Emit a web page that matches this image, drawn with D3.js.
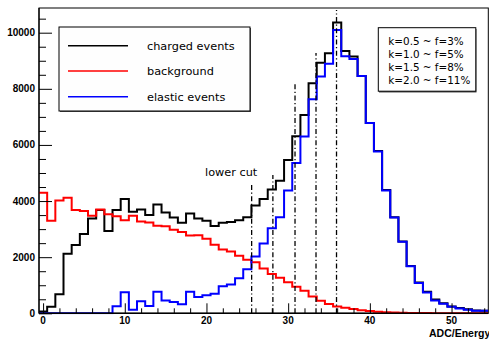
<!DOCTYPE html>
<html>
<head>
<meta charset="utf-8">
<script src="https://cdn.jsdelivr.net/npm/d3@7"></script>
<style>
  html, body { margin: 0; padding: 0; background: #fff; }
  svg { display: block; }
</style>
</head>
<body>
<svg id="chart" width="489" height="339"></svg>
<script>
// Bin centres (ADC/Energy), one unit wide
const binCenters = d3.range(0, 55);

// Charged events per bin
const charged = [60, 230, 680, 2120, 2430, 2830, 3380, 3680, 2930, 3680,
  4070, 3620, 3700, 3500, 3880, 3590, 3410, 3230, 3560, 3380,
  3300, 3110, 3230, 3250, 3320, 3420, 3840, 4070, 4410, 4720,
  5460, 6310, 7070, 8200, 8930, 9270, 10360, 9350, 9150, 8460,
  6780, 5780, 4390, 3420, 2560, 1690, 1100, 770, 490, 360,
  245, 185, 140, 100, 95];

// Background estimate per bin
const background = [4300, 3300, 4020, 4120, 3680, 3650, 3480, 3700, 3530, 3460,
  3320, 3480, 3270, 3240, 3120, 3100, 2980, 2900, 2770, 2780,
  2660, 2440, 2270, 2200, 2050, 1910, 1820, 1600, 1400, 1270,
  1110, 950, 800, 600, 450, 330, 240, 200, 150, 110,
  80, 55, 40, 30, 20, 15, 10, 8, 5, 4,
  3, 2, 2, 1, 1];

// Elastic events per bin
const elastic = [0, 0, 0, 0, 0, 0, 0, 0, 0, 250,
  750, 130, 430, 260, 770, 460, 400, 320, 770, 580,
  640, 700, 960, 1030, 1250, 1570, 2020, 2490, 3030, 3420,
  4380, 5360, 6300, 7630, 8440, 8890, 10100, 9160, 9060, 8460,
  6780, 5770, 4380, 3410, 2550, 1680, 1080, 740, 460, 340,
  230, 175, 130, 90, 90];

// Lower-cut positions and the heights the markers reach
const cutPositions = [25.53, 28.13, 30.84, 33.41, 35.92];
const cutTops = [4570, 4930, 8200, 9280, 10810];

const xTicks = [0, 10, 20, 30, 40, 50];
const yTicks = [0, 2000, 4000, 6000, 8000, 10000];

const legendLabels = ["charged events", "background", "elastic events"];
const legendColors = ["#000000", "#ff0000", "#0000ff"];
const infoLines = ["k=0.5 ~ f=3%", "k=1.0 ~ f=5%", "k=1.5 ~ f=8%", "k=2.0 ~ f=11%"];

const svg = d3.select("#chart");
const frame = { left: 39, right: 488.3, top: 8, bottom: 313.3 };

const x = d3.scaleLinear().domain([-0.5, 54.5]).range([frame.left, frame.right]);
const y = d3.scaleLinear().domain([0, 10880]).range([frame.bottom, frame.top]);

svg.append("defs").append("clipPath").attr("id", "plotClip")
  .append("rect")
  .attr("x", frame.left).attr("y", frame.top - 1)
  .attr("width", frame.right - frame.left)
  .attr("height", frame.bottom - frame.top + 2);

// Plot frame
svg.append("rect")
  .attr("x", frame.left).attr("y", frame.top)
  .attr("width", frame.right - frame.left)
  .attr("height", frame.bottom - frame.top)
  .attr("fill", "#fff").attr("stroke", "#000").attr("stroke-width", 1);

// Step outline of a histogram: each bin drawn flat across its unit width
function stepPath(values) {
  const pts = values.map((v, i) => [binCenters[i] - 0.5, v]);
  pts.push([binCenters[binCenters.length - 1] + 0.5, values[values.length - 1]]);
  return d3.line().x(d => x(d[0])).y(d => y(d[1])).curve(d3.curveStepAfter)(pts);
}

const plot = svg.append("g").attr("clip-path", "url(#plotClip)");
[[charged, "#000000"], [background, "#ff0000"], [elastic, "#0000ff"]].forEach(([vals, col]) => {
  plot.append("path")
    .attr("d", stepPath(vals))
    .attr("fill", "none")
    .attr("stroke", col)
    .attr("stroke-width", 2)
    .attr("stroke-linejoin", "miter");
});

// Dash-dotted cut markers
plot.selectAll("line.cut").data(cutPositions).join("line")
  .attr("class", "cut")
  .attr("x1", d => x(d)).attr("x2", d => x(d))
  .attr("y1", y(0)).attr("y2", (d, i) => y(cutTops[i]))
  .attr("stroke", "#000").attr("stroke-width", 1.3)
  .attr("stroke-dasharray", "5,2.5,1.2,2.5");

// Y axis: ticks point into the plot
const yAxis = d3.axisRight(y).tickValues(d3.range(0, 10880, 500)).tickFormat("")
  .tickSize(7).tickSizeOuter(0);
const gy = svg.append("g").attr("transform", `translate(${frame.left},0)`).call(yAxis);
gy.selectAll(".tick line").filter(d => d % 2000 === 0).attr("x2", 13);
gy.select(".domain").remove();
svg.append("line").attr("x1", frame.left).attr("x2", frame.left)
  .attr("y1", frame.top).attr("y2", frame.bottom).attr("stroke", "#000").attr("stroke-width", 1.2);
svg.selectAll("text.ylab").data(yTicks).join("text")
  .attr("class", "ylab")
  .attr("x", 35).attr("y", d => y(d) + 3.5)
  .attr("text-anchor", "end")
  .attr("font-family", "Liberation Sans, Arial, sans-serif")
  .attr("font-weight", "bold").attr("font-size", 10)
  .text(d => d);

// X axis: ticks point up into the plot
const xAxis = d3.axisTop(x).tickValues(d3.range(0, 55, 2)).tickFormat("")
  .tickSize(5).tickSizeOuter(0);
const gx = svg.append("g").attr("transform", `translate(0,${frame.bottom})`).call(xAxis);
gx.selectAll(".tick line").filter(d => d % 10 === 0).attr("y2", -10);
gx.select(".domain").remove();
svg.append("line").attr("x1", frame.left).attr("x2", frame.right)
  .attr("y1", frame.bottom).attr("y2", frame.bottom).attr("stroke", "#000").attr("stroke-width", 1.5);
svg.selectAll("text.xlab").data(xTicks).join("text")
  .attr("class", "xlab")
  .attr("x", d => x(d)).attr("y", 323.8)
  .attr("text-anchor", "middle")
  .attr("font-family", "Liberation Sans, Arial, sans-serif")
  .attr("font-weight", "bold").attr("font-size", 10)
  .text(d => d);

svg.append("text")
  .attr("x", 429).attr("y", 337)
  .attr("font-family", "Liberation Sans, Arial, sans-serif")
  .attr("font-weight", "bold").attr("font-size", 10.5)
  .text("ADC/Energy");

// Cut label
svg.append("text")
  .attr("x", 205).attr("y", 175.5)
  .attr("font-family", "DejaVu Sans, sans-serif").attr("font-size", 11.3)
  .text("lower cut");

// Legend
const leg = svg.append("g");
leg.append("rect").attr("x", 60).attr("y", 28).attr("width", 191).attr("height", 84).attr("fill", "#555");
leg.append("rect").attr("x", 59).attr("y", 27).attr("width", 191).attr("height", 84)
  .attr("fill", "#fefefe").attr("stroke", "#000").attr("stroke-width", 1);
const legY = [45.7, 71, 96.7];
legendLabels.forEach((lab, i) => {
  leg.append("line").attr("x1", 68).attr("x2", 128)
    .attr("y1", legY[i]).attr("y2", legY[i])
    .attr("stroke", legendColors[i]).attr("stroke-width", 1.5);
  leg.append("text").attr("x", 147).attr("y", legY[i] + 4)
    .attr("font-family", "DejaVu Sans, sans-serif").attr("font-size", 11.3)
    .attr("fill", "#000").text(lab);
});

// Fraction box
const info = svg.append("g");
info.append("rect").attr("x", 379).attr("y", 29).attr("width", 97.5).attr("height", 63.5).attr("fill", "#555");
info.append("rect").attr("x", 378.3).attr("y", 27.7).attr("width", 97.5).attr("height", 63.5)
  .attr("fill", "#fefefe").attr("stroke", "#000").attr("stroke-width", 1);
infoLines.forEach((t, i) => {
  info.append("text").attr("x", 388.3).attr("y", 45 + i * 13)
    .attr("font-family", "DejaVu Sans, sans-serif").attr("font-size", 10.4)
    .text(t);
});
</script>
</body>
</html>
